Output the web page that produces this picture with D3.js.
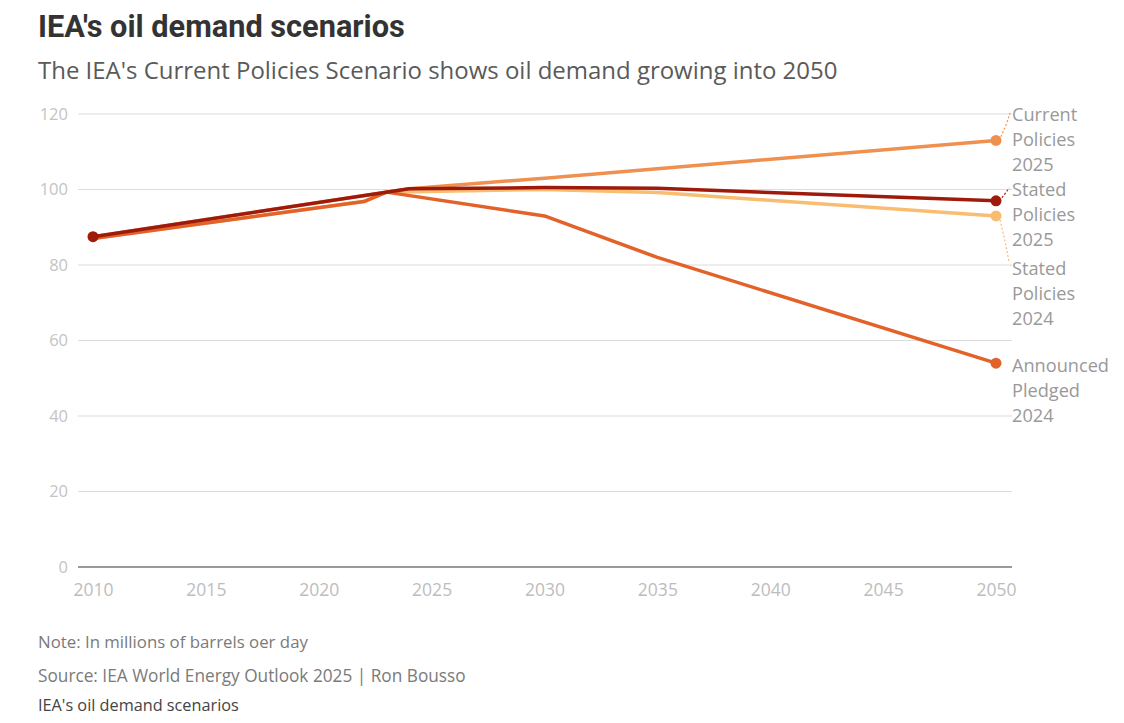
<!DOCTYPE html>
<html><head><meta charset="utf-8">
<script src="https://cdn.jsdelivr.net/npm/d3@7"></script>
<style>
body{margin:0;background:#fff;}
svg{display:block;}
</style></head>
<body><svg id="c" width="1124" height="723"></svg>
<script>
const title = "IEA's oil demand scenarios";
const subtitle = "The IEA's Current Policies Scenario shows oil demand growing into 2050";
const note = "Note: In millions of barrels oer day";
const source = "Source: IEA World Energy Outlook 2025 | Ron Bousso";
const footerTitle = "IEA's oil demand scenarios";

const seriesNames = ["Stated Policies 2024", "Announced Pledged 2024", "Current Policies 2025", "Stated Policies 2025"];
const statedPolicies2024 = [[2010, 87], [2022, 96.8], [2023, 99.3], [2030, 100], [2035, 99.2], [2050, 93]];
const announcedPledged2024 = [[2010, 87], [2022, 96.8], [2023, 99.3], [2030, 93], [2035, 82], [2050, 54]];
const currentPolicies2025 = [[2010, 87.5], [2024, 100.2], [2030, 103], [2035, 105.5], [2050, 113]];
const statedPolicies2025 = [[2010, 87.5], [2024, 100.2], [2030, 100.5], [2035, 100.3], [2050, 97]];
const seriesColors = ["#f9bd72", "#e2622a", "#f09050", "#9e1b0b"];
const labelLines = [["Stated", "Policies", "2024"], ["Announced", "Pledged", "2024"], ["Current", "Policies", "2025"], ["Stated", "Policies", "2025"]];
const yTicks = [0, 20, 40, 60, 80, 100, 120];
const xTicks = [2010, 2015, 2020, 2025, 2030, 2035, 2040, 2045, 2050];

const seriesData = [statedPolicies2024, announcedPledged2024, currentPolicies2025, statedPolicies2025];

const svg = d3.select("#c");
const x = d3.scaleLinear().domain([2010, 2050]).range([93, 996]);
const y = d3.scaleLinear().domain([0, 120]).range([567, 114]);

// place text and scale font so it spans a target width
function fitText(str, xx, yy, family, size, target, fill, weight) {
  const t = svg.append("text").attr("x", xx).attr("y", yy).text(str)
    .attr("font-family", family).attr("font-size", size).attr("fill", fill)
    .attr("font-weight", weight || "normal");
  const w = t.node().getComputedTextLength();
  if (w > 0) t.attr("font-size", size * target / w);
  return t;
}

const sans = "'Open Sans',sans-serif";
fitText(title, 38, 37, "Roboto,sans-serif", 27, 367, "#333", "bold");
fitText(subtitle, 38, 79, sans, 21, 800, "#5a5a5a", "normal");

// grid
const gridG = svg.append("g");
gridG.selectAll("line").data(yTicks.filter(d => d > 0)).join("line")
  .attr("x1", 78).attr("x2", 1012).attr("y1", d => y(d)).attr("y2", d => y(d))
  .attr("stroke", "#dcdcdc").attr("stroke-width", 1.2);
gridG.selectAll("text").data(yTicks).join("text")
  .attr("x", 68).attr("y", d => y(d)).attr("dy", "0.35em").attr("text-anchor", "end")
  .text(d => d).attr("font-family", sans).attr("font-size", 16.5).attr("fill", "#c4c4c4");

// x axis
const xAxis = d3.axisBottom(x).tickValues(xTicks).tickFormat(d3.format("d")).tickSize(0).tickPadding(17);
const xg = svg.append("g").attr("transform", `translate(0,${y(0)})`).call(xAxis);
xg.select(".domain").remove();
xg.selectAll("text").attr("font-family", sans).attr("font-size", 17.5).attr("fill", "#bdbdbd");
svg.append("line").attr("x1", 78).attr("x2", 1012).attr("y1", y(0)).attr("y2", y(0))
  .attr("stroke", "#9a9a9a").attr("stroke-width", 2);

// lines
const line = d3.line().x(d => x(d[0])).y(d => y(d[1]));
const order = [0, 2, 1, 3];
order.forEach(i => {
  svg.append("path").datum(seriesData[i]).attr("d", line)
    .attr("fill", "none").attr("stroke", seriesColors[i]).attr("stroke-width", 3.5)
    .attr("stroke-linejoin", "round").attr("stroke-linecap", "round");
});
// start dot
svg.append("circle").attr("cx", x(statedPolicies2025[0][0])).attr("cy", y(statedPolicies2025[0][1]))
  .attr("r", 5.5).attr("fill", seriesColors[3]);
// end dots
order.forEach(i => {
  const last = seriesData[i][seriesData[i].length - 1];
  svg.append("circle").attr("cx", x(last[0])).attr("cy", y(last[1])).attr("r", 5.5).attr("fill", seriesColors[i]);
});

// labels
const labelY = [269, 366, 115, 190];
let labelSize = 17;
{
  const probe = svg.append("text").text("Announced").attr("font-family", sans).attr("font-size", 17);
  const w = probe.node().getComputedTextLength();
  if (w > 0) labelSize = 17 * 97 / w;
  probe.remove();
}
labelLines.forEach((ls, i) => {
  ls.forEach((t, k) => {
    svg.append("text").attr("x", 1012).attr("y", labelY[i] + k * 24.6).attr("dy", "0.35em")
      .text(t).attr("font-family", sans).attr("font-size", labelSize).attr("fill", "#999");
  });
});
// leaders
const leaderEnds = [[1009, 262], null, [1010, 113], [1009, 188]];
leaderEnds.forEach((e, i) => {
  if (!e) return;
  const last = seriesData[i][seriesData[i].length - 1];
  const sx = x(last[0]) + 3, sy = y(last[1]);
  svg.append("path")
    .attr("d", `M${sx},${sy} Q${e[0] - 4},${(sy + e[1]) / 2} ${e[0]},${e[1]}`)
    .attr("fill", "none").attr("stroke", seriesColors[i]).attr("stroke-width", 1.2)
    .attr("stroke-dasharray", "2,2");
});

// footer
fitText(note, 38, 648, sans, 15, 270, "#7a7a7a");
fitText(source, 38, 682, sans, 15, 428, "#7a7a7a");
fitText(footerTitle, 38, 711, sans, 14, 201, "#444");
</script></body></html>
